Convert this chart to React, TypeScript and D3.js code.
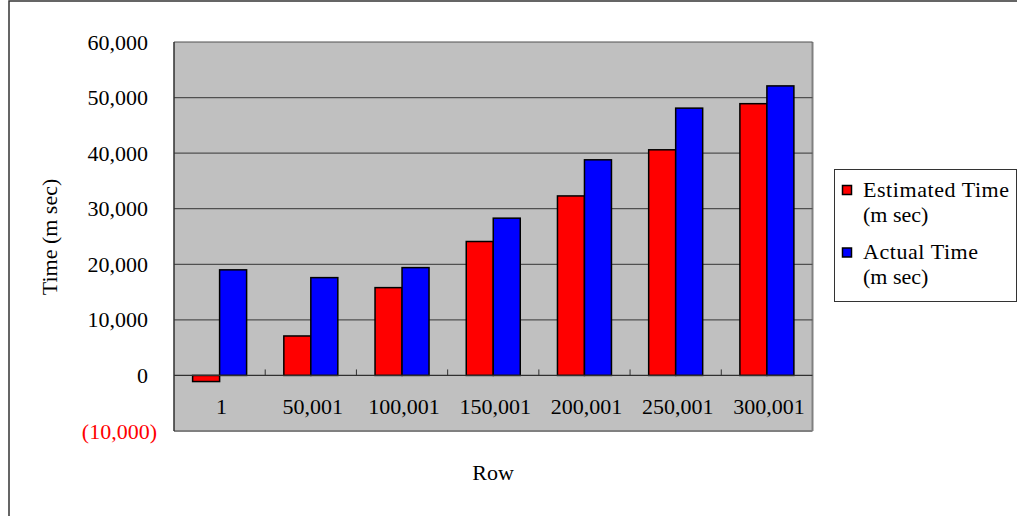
import React from "react";
import * as d3 from "d3";

const categories = ["1", "50,001", "100,001", "150,001", "200,001", "250,001", "300,001"];
const estimatedTime = [-1100, 7100, 15800, 24100, 32300, 40600, 48900];
const actualTime = [19000, 17600, 19400, 28300, 38800, 48100, 52100];
const yTicks = [-10000, 0, 10000, 20000, 30000, 40000, 50000, 60000];
const seriesNames = ["Estimated Time", "Actual Time"];
const seriesColors = ["#ff0000", "#0000ff"];

const FONT = "'Liberation Serif', 'Times New Roman', serif";

export default function App() {
  const W = 1017;
  const H = 516;
  const left = 174;
  const right = 812.5;
  const top = 42;
  const bottom = 431;

  const y = d3.scaleLinear().domain([-10000, 60000]).range([bottom, top]);
  const x = d3.scaleBand<string>().domain(categories).range([left, right]).paddingInner(0).paddingOuter(0);
  const step = x.step();
  const groupW = 54;
  const xs = d3
    .scaleBand<string>()
    .domain(seriesNames)
    .range([(step - groupW) / 2, (step + groupW) / 2])
    .padding(0);

  const fmt = d3.format(",");
  const data = [estimatedTime, actualTime];
  const y0 = y(0);
  const legendLens = [146, 115];

  return (
    <svg
      width={W}
      height={H}
      style={{ position: "absolute", left: 0, top: 0, background: "#fff" }}
      fontFamily={FONT}
    >
      {/* outer frame */}
      <rect x={9} y={1} width={1100} height={600} fill="#fff" stroke="#333" strokeWidth={1.5} />

      {/* plot area */}
      <rect x={left} y={top} width={right - left} height={bottom - top} fill="#c0c0c0" />
      <line x1={right} x2={right} y1={top} y2={bottom} stroke="#808080" strokeWidth={2} />
      <line x1={left} x2={right} y1={bottom} y2={bottom} stroke="#808080" strokeWidth={2} />

      {/* gridlines */}
      {yTicks
        .filter((t) => t > 0)
        .map((t) => (
          <line key={t} x1={left} x2={right} y1={y(t)} y2={y(t)} stroke="#505050" strokeWidth={1.2} />
        ))}

      {/* bars */}
      {categories.map((c, i) => (
        <g key={c} transform={`translate(${x(c)},0)`}>
          {seriesNames.map((s, j) => {
            const v = data[j][i];
            const yt = y(Math.max(v, 0));
            const yb = y(Math.min(v, 0));
            return (
              <rect
                key={s}
                x={xs(s)}
                y={yt}
                width={xs.bandwidth()}
                height={yb - yt}
                fill={seriesColors[j]}
                stroke="#000"
                strokeWidth={1.5}
              />
            );
          })}
        </g>
      ))}

      {/* x axis at zero */}
      <line x1={left} x2={right} y1={y0} y2={y0} stroke="#303030" strokeWidth={1.2} />
      {d3.range(1, categories.length).map((k) => (
        <line
          key={k}
          x1={left + k * step}
          x2={left + k * step}
          y1={y0 - 6}
          y2={y0}
          stroke="#303030"
          strokeWidth={1}
        />
      ))}
      {/* left axis */}
      <line x1={left} x2={left} y1={top} y2={bottom} stroke="#303030" strokeWidth={1.5} />

      {/* y tick labels */}
      {yTicks.map((t) => (
        <text
          key={t}
          x={t < 0 ? 157 : 148}
          y={y(t) + 7.5}
          textAnchor="end"
          fontSize={22}
          fill={t < 0 ? "#ff0000" : "#000"}
        >
          {t < 0 ? `(${fmt(-t)})` : fmt(t)}
        </text>
      ))}

      {/* x category labels */}
      {categories.map((c) => (
        <text key={c} x={(x(c) as number) + step / 2 + 2} y={414} textAnchor="middle" fontSize={22} fill="#000">
          {c}
        </text>
      ))}

      {/* axis titles */}
      <text x={493} y={480} textAnchor="middle" fontSize={22}>
        Row
      </text>
      <text transform={`translate(57,237) rotate(-90)`} textAnchor="middle" fontSize={22}>
        Time (m sec)
      </text>

      {/* legend */}
      <rect x={834.5} y={169.5} width={182} height={132} fill="#fff" stroke="#333" strokeWidth={1} />
      {seriesNames.map((s, j) => {
        const by = 185.5 + j * 62.5;
        return (
          <g key={s}>
            <rect x={842.5} y={by} width={9} height={9} fill={seriesColors[j]} stroke="#000" strokeWidth={1.5} />
            <text x={863} y={by + 11} fontSize={22} textLength={legendLens[j]} lengthAdjust="spacing">
              {s}
            </text>
            <text x={863} y={by + 36} fontSize={22}>
              (m sec)
            </text>
          </g>
        );
      })}
    </svg>
  );
}
